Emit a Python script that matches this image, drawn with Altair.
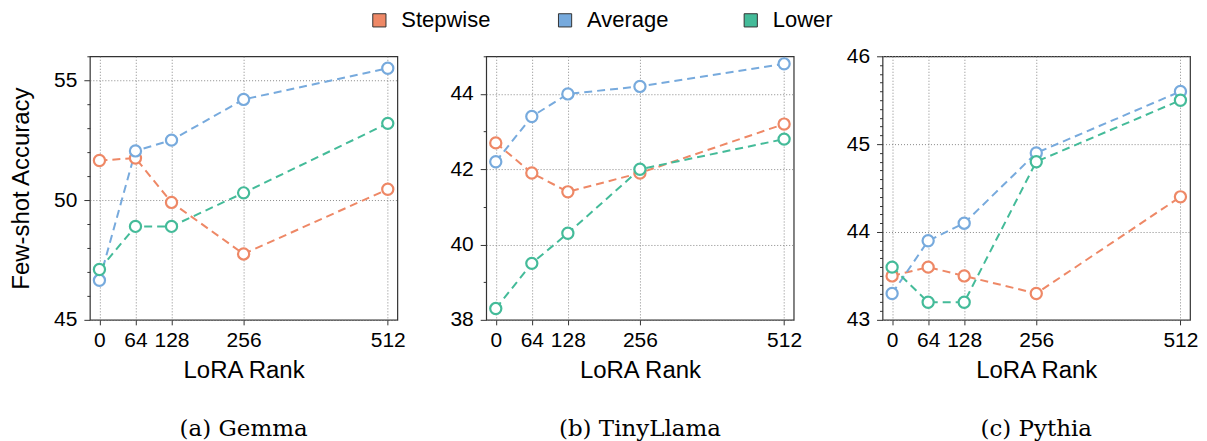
import altair as alt
import pandas as pd

ranks = [0, 64, 128, 256, 512]
methods = ["Stepwise", "Average", "Lower"]
colors = ["#EE8866", "#77AADD", "#44BB99"]

gemma_stepwise = [51.65, 51.75, 49.9, 47.75, 50.45]
gemma_average = [46.65, 52.05, 52.5, 54.2, 55.5]
gemma_lower = [47.1, 48.9, 48.9, 50.3, 53.2]

tinyllama_stepwise = [42.7, 41.9, 41.4, 41.9, 43.2]
tinyllama_average = [42.2, 43.4, 44.0, 44.2, 44.8]
tinyllama_lower = [38.3, 39.5, 40.3, 42.0, 42.8]

pythia_stepwise = [43.5, 43.6, 43.5, 43.3, 44.4]
pythia_average = [43.3, 43.9, 44.1, 44.9, 45.6]
pythia_lower = [43.6, 43.2, 43.2, 44.8, 45.5]

FONT = "Liberation Sans"
SERIF = "DejaVu Serif"
W, H = 308, 264
GAP = 89

color_scale = alt.Scale(domain=methods, range=colors)


def panel(stepwise, average, lower, y_min, y_max, minor, major, caption, y_title):
    rows = []
    for m, vals in zip(methods, [stepwise, average, lower]):
        for r, v in zip(ranks, vals):
            rows.append({"rank": r, "acc": v, "method": m})
    df = pd.DataFrame(rows)
    n = int(round((y_max - y_min) / minor))
    yvals = [round(y_min + i * minor, 4) for i in range(n + 1)]
    is_major = f"abs(datum.value/{major} - round(datum.value/{major})) < 0.001"

    x = alt.X(
        "rank:Q",
        scale=alt.Scale(domain=[-17, 529], nice=False, zero=False),
        axis=alt.Axis(values=ranks, title="LoRA Rank", format="d", labelOverlap=False),
    )
    y = alt.Y(
        "acc:Q",
        scale=alt.Scale(domain=[y_min, y_max], nice=False, zero=False),
        axis=alt.Axis(
            values=yvals,
            title=y_title,
            labelExpr=f"{is_major} ? format(datum.value, 'd') : ''",
            labelOverlap=False,
            tickSize={"condition": {"test": is_major, "value": 6}, "value": 3},
            gridOpacity={"condition": {"test": is_major, "value": 1}, "value": 0},
        ),
    )
    base = alt.Chart(df)
    lines = base.mark_line(strokeDash=[8, 5], strokeWidth=2).encode(
        x=x, y=y, stroke=alt.Stroke("method:N", scale=color_scale, legend=None)
    )
    pts = base.mark_point(
        shape="circle", size=125, strokeWidth=2.2, fill="white", filled=False, opacity=1
    ).encode(x=x, y=y, stroke=alt.Stroke("method:N", scale=color_scale, legend=None))
    return alt.layer(lines, pts).properties(
        width=W,
        height=H,
        title=alt.TitleParams(
            text=caption,
            orient="bottom",
            anchor="middle",
            font=SERIF,
            fontSize=23,
            fontWeight="normal",
            color="black",
            offset=35,
        ),
    )


p1 = panel(gemma_stepwise, gemma_average, gemma_lower, 45, 56, 1, 5, "(a) Gemma", "Few-shot Accuracy")
p2 = panel(tinyllama_stepwise, tinyllama_average, tinyllama_lower, 38, 45, 1, 2, "(b) TinyLlama", "")
p3 = panel(pythia_stepwise, pythia_average, pythia_lower, 43, 46, 0.1, 1, "(c) Pythia", "")

panels = alt.hconcat(p1, p2, p3, spacing=GAP, bounds="flush")

# legend row (drawn from the methods list through a point scale)
legend_df = pd.DataFrame({"method": methods})
lx = alt.X(
    "method:N",
    sort=methods,
    scale=alt.Scale(domain=methods, range=[290, 662], padding=0),
    axis=None,
)
leg_sq = alt.Chart(legend_df).mark_point(
    shape="square", size=175, filled=True, stroke="#333333", strokeWidth=1, opacity=1
).encode(x=lx, fill=alt.Fill("method:N", scale=color_scale, legend=None))
leg_tx = alt.Chart(legend_df).mark_text(
    align="left", baseline="middle", dx=22, font=FONT, fontSize=22, color="black"
).encode(x=lx, text="method:N")
legend_row = alt.layer(leg_sq, leg_tx).properties(
    width=W * 3 + GAP * 2, height=20, view=alt.ViewBackground(stroke="transparent")
)

chart = (
    alt.vconcat(legend_row, panels, spacing=12)
    .properties(padding={"left": 1, "top": 0, "right": 0, "bottom": 0})
    .configure_view(stroke="#333333", strokeWidth=1.2)
    .configure_axis(
        domain=False,
        tickColor="#333333",
        tickWidth=1,
        labelFont=FONT,
        labelFontSize=21,
        labelColor="black",
        titleFont=FONT,
        titleFontSize=24,
        titleFontWeight="normal",
        titleColor="black",
        gridColor="#888888",
        gridDash=[1, 2],
        gridWidth=1,
    )
    .configure_axisY(titlePadding=20, labelPadding=7)
    .configure_axisX(titlePadding=8, labelPadding=5)
)

chart.save("out.html", embed_options={"renderer": "svg", "actions": False})
